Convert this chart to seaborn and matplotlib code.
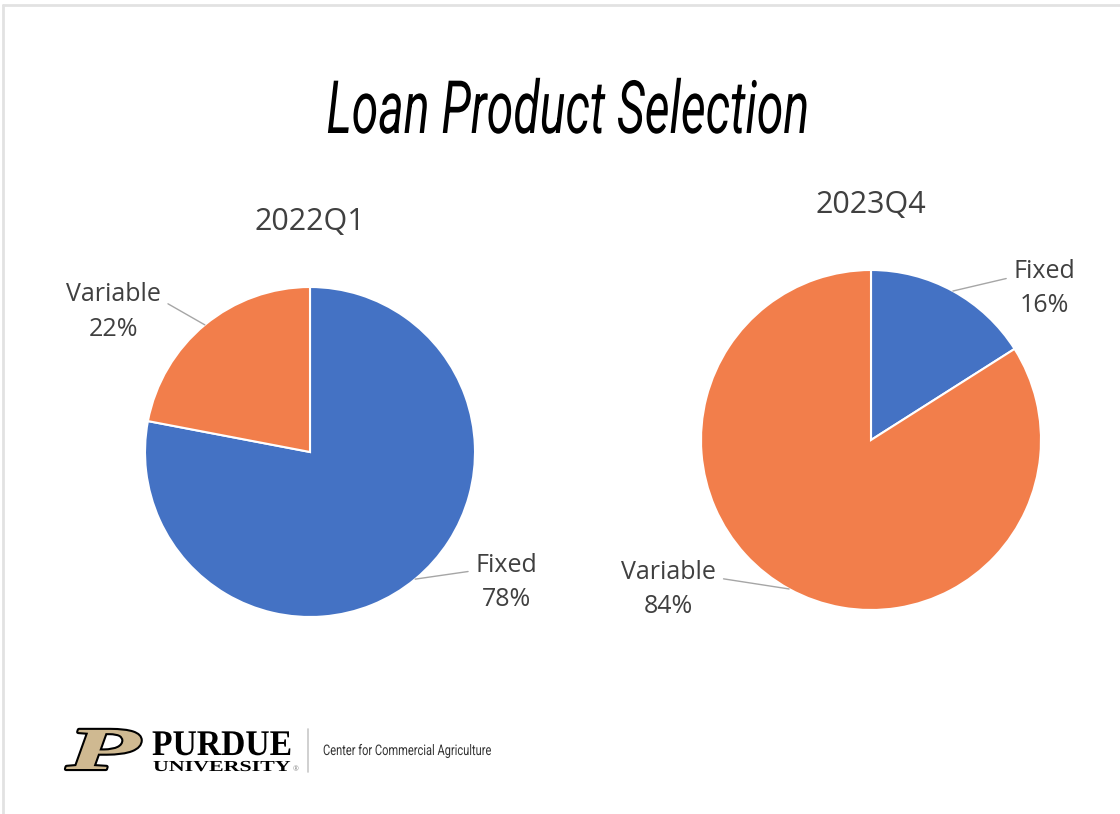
import numpy as np
import pandas as pd
import seaborn as sns
import matplotlib
matplotlib.use('Agg')
import matplotlib.pyplot as plt
import matplotlib.patheffects as pe
from matplotlib.transforms import Affine2D
from matplotlib.lines import Line2D

# %%
# Data
periods = ['2022Q1', '2023Q4']
products = ['Fixed', 'Variable']
fixed_pct = [78, 16]
variable_pct = [22, 84]

df = pd.DataFrame({'period': periods, 'Fixed': fixed_pct, 'Variable': variable_pct})

colors = {'Fixed': '#4472C4', 'Variable': '#F27E4B'}
text_gray = '#404040'

sns.set_theme(style='white')
plt.rcParams['font.family'] = ['Open Sans', 'DejaVu Sans']

W, H = 1120, 814
fig = plt.figure(figsize=(W / 100, H / 100), dpi=100)
fig.patch.set_facecolor('white')
renderer = fig.canvas.get_renderer()


# horizontal squeeze / stretch of rendered text (text stays a Text artist)
class Squeeze(pe.Stroke):
    def __init__(self, sx, cx, **kw):
        super().__init__(offset=(0, 0), **kw)
        self.sx, self.cx = sx, cx

    def _offset_transform(self, renderer):
        return Affine2D().translate(-self.cx, 0).scale(self.sx, 1).translate(self.cx, 0)


def fit_width(txt, target, anchor='center', extra=()):
    bb = txt.get_window_extent(renderer)
    sx = target / bb.width
    cx = bb.x0 if anchor == 'left' else (bb.x0 + bb.x1) / 2
    txt.set_path_effects([Squeeze(sx, cx, **k) for k in extra] + [Squeeze(sx, cx)])


# %%
# Title
title = fig.text(568 / W, 1 - 133 / H, 'Loan Product Selection', ha='center', va='baseline',
                 fontsize=53, fontstyle='italic', family=['Roboto', 'DejaVu Sans'], color='black')
fit_width(title, 483)

# %%
# Pies: pixel centre / radius of each pie and where its labels sit (in radius units)
layout = {
    '2022Q1': dict(cx=310, cy=452, r=165, label_xy={'Fixed': (1.19, -0.79), 'Variable': (-1.19, 0.85)}),
    '2023Q4': dict(cx=871, cy=440, r=170, label_xy={'Fixed': (1.02, 0.89), 'Variable': (-1.19, -0.88)}),
}
span = 1.6

for period, row in df.set_index('period').iterrows():
    L = layout[period]
    side = 2 * span * L['r']
    ax = fig.add_axes([(L['cx'] - side / 2) / W, (H - L['cy'] - side / 2) / H, side / W, side / H])
    ax.patch.set_alpha(0)

    wedges, _ = ax.pie(
        row[products].values.astype(float)
        , colors=[colors[p] for p in products]
        , startangle=90
        , counterclock=False
        , radius=1
        , wedgeprops=dict(edgecolor='white', linewidth=1.5)
    )
    ax.set_xlim(-span, span)
    ax.set_ylim(-span, span)
    ax.set_aspect('equal')
    ax.axis('off')

    for w, prod in zip(wedges, products):
        mid = np.deg2rad((w.theta1 + w.theta2) / 2)
        tx, ty = L['label_xy'][prod]
        ax.annotate(
            f'{prod}\n{row[prod]}%'
            , xy=(np.cos(mid), np.sin(mid))
            , xytext=(tx, ty)
            , ha='center', va='center'
            , fontsize=18, color=text_gray, linespacing=1.5
            , arrowprops=dict(arrowstyle='-', color='#A6A6A6', lw=1,
                              relpos=(0 if tx > 0 else 1, 0.7), shrinkA=3, shrinkB=0)
        )

    ax.text(0, 1 + 57 / L['r'], period, ha='center', va='baseline', fontsize=22, color=text_gray)

# %%
# Footer logo
P = fig.text(103 / W, 1 - 769 / H, 'P', ha='center', va='baseline', fontsize=43,
             family='Liberation Serif', weight='bold', style='italic', color='#CFB991')
fit_width(P, 74, 'center', extra=[dict(linewidth=3, foreground='black')])

purdue = fig.text(152 / W, 1 - 755 / H, 'PURDUE', ha='left', va='baseline', fontsize=26,
                  family='Liberation Serif', weight='bold', color='black')
fit_width(purdue, 140, 'left')
univ = fig.text(153 / W, 1 - 771 / H, 'UNIVERSITY', ha='left', va='baseline', fontsize=11,
                family='Liberation Serif', weight='bold', color='black')
fit_width(univ, 137, 'left')
fig.text(293 / W, 1 - 771 / H, '®', fontsize=5, color='#888888')

fig.add_artist(Line2D([307.7 / W] * 2, [1 - 729 / H, 1 - 772 / H], color='#C8C8C8', lw=1.2))
centre = fig.text(323 / W, 1 - 755 / H, 'Center for Commercial Agriculture', ha='left', va='baseline',
                  fontsize=10.5, color='#333333', family=['Roboto', 'DejaVu Sans'])
fit_width(centre, 169, 'left')

# slide border (top and left edges)
fig.add_artist(Line2D([3 / W, 1], [1 - 5 / H] * 2, color='#E2E2E2', lw=2))
fig.add_artist(Line2D([3 / W] * 2, [1 - 5 / H, 0], color='#E2E2E2', lw=2))

fig.savefig('out.png', dpi=100, facecolor='white')
